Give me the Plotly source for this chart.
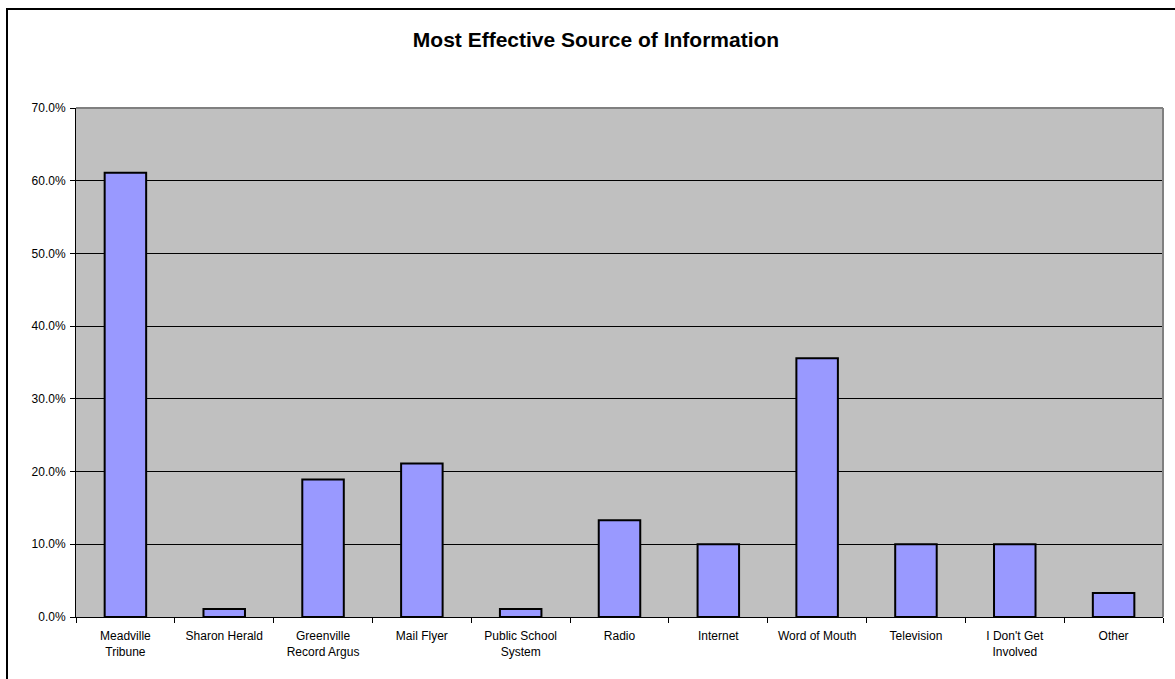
import plotly.graph_objects as go

categories = ["Meadville<br>Tribune", "Sharon Herald", "Greenville<br>Record Argus", "Mail Flyer",
              "Public School<br>System", "Radio", "Internet", "Word of Mouth", "Television",
              "I Don't Get<br>Involved", "Other"]
values = [0.611, 0.011, 0.189, 0.211, 0.011, 0.133, 0.100, 0.356, 0.100, 0.100, 0.033]
y_ticks = [0, 0.1, 0.2, 0.3, 0.4, 0.5, 0.6, 0.7]

FONT = "Liberation Sans, Arial, sans-serif"

fig = go.Figure(go.Bar(
    x=categories, y=values,
    marker=dict(color="#9999FF", line=dict(color="black", width=2)),
    hoverinfo="x+y",
))

L, R, T, B = 76, 12, 108, 62
W, H = 1175, 679
pw, ph = W - L - R, H - T - B

fig.update_layout(
    width=W, height=H,
    margin=dict(l=L, r=R, t=T, b=B, pad=0),
    paper_bgcolor="white",
    plot_bgcolor="#C0C0C0",
    bargap=0.58,
    showlegend=False,
    title=dict(text="<b>Most Effective Source of Information</b>",
               x=596 / W, xanchor="center", y=1 - 40 / H, yanchor="middle",
               font=dict(family=FONT, size=21, color="black")),
    font=dict(family=FONT, size=12, color="black"),
    xaxis=dict(
        type="category", tickson="boundaries", ticks="outside", ticklen=5,
        tickcolor="black", showline=True, linecolor="black", linewidth=1,
        showgrid=False, tickfont=dict(size=12, family=FONT, color="black"),
        ticklabelstandoff=8,
    ),
    yaxis=dict(
        range=[0, 0.7], tickvals=y_ticks, tickformat=".1%", ticks="outside",
        ticklen=5, tickcolor="black", showline=True, linecolor="black", linewidth=1,
        showgrid=True, gridcolor="black", gridwidth=1, zeroline=False,
        tickfont=dict(size=12, family=FONT, color="black"),
        ticklabelstandoff=2,
    ),
    shapes=[
        dict(type="line", xref="paper", yref="paper", x0=0, x1=1, y0=1, y1=1,
             line=dict(color="#808080", width=2), layer="above"),
        dict(type="line", xref="paper", yref="paper", x0=1, x1=1, y0=0, y1=1,
             line=dict(color="#808080", width=2), layer="above"),
        dict(type="rect", xref="paper", yref="paper",
             x0=(7 - L) / pw, x1=(W + 20 - L) / pw,
             y0=-(B + 20) / ph, y1=(617 - 9) / ph,
             line=dict(color="black", width=2), fillcolor="rgba(0,0,0,0)", layer="above"),
    ],
)

fig.write_html("out.html", config={"displayModeBar": False},
               post_script="document.body.style.margin='0';document.body.style.overflow='hidden';")
